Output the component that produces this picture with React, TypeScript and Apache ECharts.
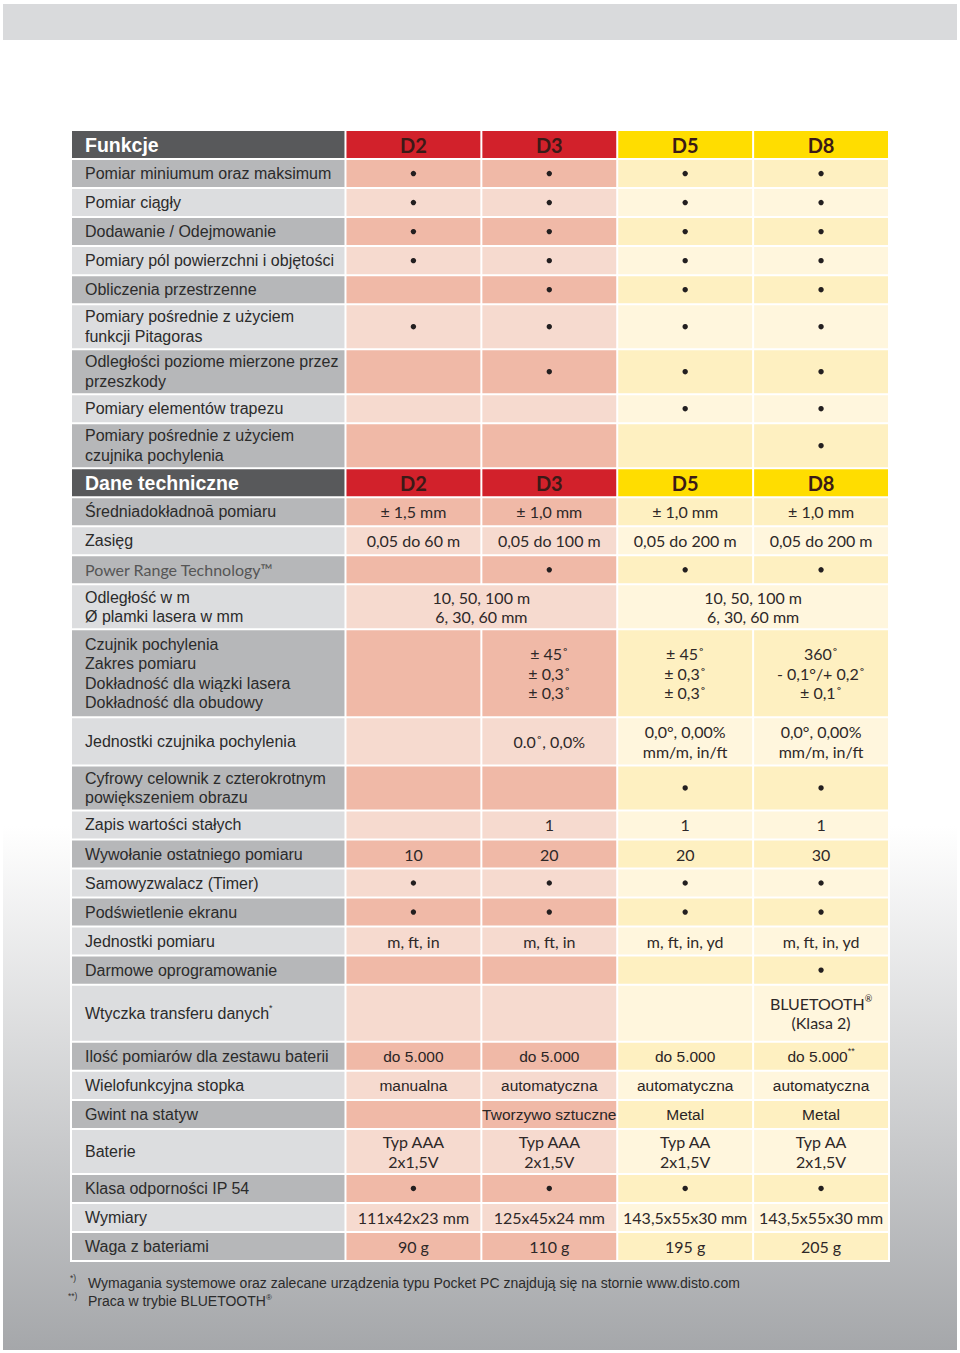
import React, { useEffect, useRef } from "react";
import * as echarts from "echarts";

// ---------- data ----------
const models = ["D2", "D3", "D5", "D8"];
const sectionTitles = ["Funkcje", "Dane techniczne"];

const funcLabels = [
  "Pomiar miniumum oraz maksimum",
  "Pomiar ciągły",
  "Dodawanie / Odejmowanie",
  "Pomiary pól powierzchni i objętości",
  "Obliczenia przestrzenne",
  "Pomiary pośrednie z użyciem\nfunkcji Pitagoras",
  "Odległości poziome mierzone przez\nprzeszkody",
  "Pomiary elementów trapezu",
  "Pomiary pośrednie z użyciem\nczujnika pochylenia",
];
const funcSpans = [1, 1, 1, 1, 1, 1.55, 1.55, 1, 1.55];
const funcD2 = ["•", "•", "•", "•", "", "•", "", "", ""];
const funcD3 = ["•", "•", "•", "•", "•", "•", "•", "", ""];
const funcD5 = ["•", "•", "•", "•", "•", "•", "•", "•", ""];
const funcD8 = ["•", "•", "•", "•", "•", "•", "•", "•", "•"];

const techLabels = [
  "Średniadokładnoā pomiaru",
  "Zasięg",
  "Power Range Technology™",
  "Odległość w m\nØ plamki lasera w mm",
  "Czujnik pochylenia\nZakres pomiaru\nDokładność dla wiązki lasera\nDokładność dla obudowy",
  "Jednostki czujnika pochylenia",
  "Cyfrowy celownik z czterokrotnym\npowiększeniem obrazu",
  "Zapis wartości stałych",
  "Wywołanie ostatniego pomiaru",
  "Samowyzwalacz (Timer)",
  "Podświetlenie ekranu",
  "Jednostki pomiaru",
  "Darmowe oprogramowanie",
  "Wtyczka transferu danych*",
  "Ilość pomiarów dla zestawu baterii",
  "Wielofunkcyjna stopka",
  "Gwint na statyw",
  "Baterie",
  "Klasa odporności IP 54",
  "Wymiary",
  "Waga z bateriami",
];
const techSpans = [1, 1, 1, 1.55, 3.03, 1.66, 1.55, 1, 1, 1, 1, 1, 1, 1.97, 1, 1, 1, 1.55, 1, 1, 1];
// null = merged into the cell on the left
const techD2 = ["± 1,5 mm", "0,05 do 60 m", "", "10, 50, 100 m\n6, 30, 60 mm", "", "", "", "", "10", "•", "•", "m, ft, in", "", "", "do 5.000", "manualna", "", "Typ AAA\n2x1,5V", "•", "111x42x23 mm", "90 g"];
const techD3 = ["± 1,0 mm", "0,05 do 100 m", "•", null, "± 45˚\n± 0,3˚\n± 0,3˚", "0.0˚, 0,0%", "", "1", "20", "•", "•", "m, ft, in", "", "", "do 5.000", "automatyczna", "Tworzywo sztuczne", "Typ AAA\n2x1,5V", "•", "125x45x24 mm", "110 g"];
const techD5 = ["± 1,0 mm", "0,05 do 200 m", "•", "10, 50, 100 m\n6, 30, 60 mm", "± 45˚\n± 0,3˚\n± 0,3˚", "0,0°, 0,00%\nmm/m, in/ft", "•", "1", "20", "•", "•", "m, ft, in, yd", "", "", "do 5.000", "automatyczna", "Metal", "Typ AA\n2x1,5V", "•", "143,5x55x30 mm", "195 g"];
const techD8 = ["± 1,0 mm", "0,05 do 200 m", "•", null, "360˚\n- 0,1°/+ 0,2˚\n± 0,1˚", "0,0°, 0,00%\nmm/m, in/ft", "•", "1", "30", "•", "•", "m, ft, in, yd", "•", "BLUETOOTH®\n(Klasa 2)", "do 5.000**", "automatyczna", "Metal", "Typ AA\n2x1,5V", "•", "143,5x55x30 mm", "205 g"];

const footnoteMarks = ["*)", "**)"];
const footnoteTexts = [
  "Wymagania systemowe oraz zalecane urządzenia typu Pocket PC znajdują się na stornie www.disto.com",
  "Praca w trybie BLUETOOTH®",
];

// ---------- styling ----------
const ARIAL = "'Liberation Sans', Arial, sans-serif";
const HUMAN = "Lato, 'Open Sans', sans-serif";
const arialValueRows = new Set(["Ilość pomiarów dla zestawu baterii", "Wielofunkcyjna stopka", "Gwint na statyw"]);
const humanLabelRows = new Set(["Power Range Technology™"]);
const COLORS: Record<string, [string, string]> = {
  label: ["#b6b7b9", "#dcdddf"],
  red: ["#f0b9a7", "#f6dacf"],
  yel: ["#fef0c1", "#fff6dd"],
};
const LABEL_W = 2.02;

const sections = [
  { title: sectionTitles[0], labels: funcLabels, spans: funcSpans, cols: [funcD2, funcD3, funcD5, funcD8] },
  { title: sectionTitles[1], labels: techLabels, spans: techSpans, cols: [techD2, techD3, techD5, techD8] },
];

type Meta = { kind: string; shade: number; text: string; row: string };

function buildCells() {
  const data: number[][] = [];
  const meta: Meta[] = [];
  let y = 0;
  sections.forEach((sec) => {
    data.push([0, LABEL_W, y, y + 1]);
    meta.push({ kind: "hLabel", shade: 0, text: sec.title, row: "" });
    models.forEach((m, j) => {
      data.push([LABEL_W + j, LABEL_W + j + 1, y, y + 1]);
      meta.push({ kind: j < 2 ? "hRed" : "hYel", shade: 0, text: m, row: "" });
    });
    y += 1;
    sec.labels.forEach((lab, i) => {
      const sp = sec.spans[i];
      const shade = i % 2 === 0 ? 0 : 1;
      data.push([0, LABEL_W, y, y + sp]);
      meta.push({ kind: "label", shade, text: lab, row: lab });
      for (let j = 0; j < 4; j++) {
        const v = sec.cols[j][i];
        if (v === null) continue;
        let k = j + 1;
        while (k < 4 && sec.cols[k][i] === null) k++;
        data.push([LABEL_W + j, LABEL_W + k, y, y + sp]);
        meta.push({ kind: j < 2 ? "red" : "yel", shade, text: v as string, row: lab });
      }
      y += sp;
    });
  });
  return { data, meta, total: y };
}

function markup(t: string) {
  return t.replace(/(®|\*+)/g, "{s|$1}");
}

export default function App() {
  const ref = useRef<HTMLDivElement>(null);
  useEffect(() => {
    document.body.style.margin = "0";
    if (!ref.current) return;
    const chart = echarts.init(ref.current, undefined, { renderer: "svg" });
    const { data, meta, total } = buildCells();

    const renderItem = (params: any, api: any) => {
      const m = meta[params.dataIndex];
      const a = api.coord([api.value(0), api.value(2)]);
      const b = api.coord([api.value(1), api.value(3)]);
      const x = a[0] + 1;
      const y = a[1] + 1;
      const w = b[0] - a[0] - 2;
      const h = b[1] - a[1] - 2;
      let fill = "#fff";
      if (m.kind === "hLabel") fill = "#58595b";
      else if (m.kind === "hRed") fill = "#d2212b";
      else if (m.kind === "hYel") fill = "#ffdd00";
      else fill = COLORS[m.kind][m.shade];
      const children: any[] = [{ type: "rect", shape: { x, y, width: w, height: h }, style: { fill } }];
      const cx = x + w / 2;
      const cy = y + h / 2;
      if (m.text === "•") {
        children.push({ type: "circle", shape: { cx, cy, r: 2.7 }, style: { fill: "#231f20" } });
      } else if (m.text) {
        let fontFamily = HUMAN;
        let fontSize = 16;
        let fontWeight: any = "normal";
        let color = "#2e2828";
        let tx = cx;
        let align = "center";
        if (m.kind === "hLabel") {
          fontFamily = ARIAL; fontSize = 19.5; fontWeight = "bold"; color = "#ffffff"; tx = x + 13; align = "left";
        } else if (m.kind === "hRed" || m.kind === "hYel") {
          fontWeight = "bold"; fontSize = 20; color = "#3b1a17";
        } else if (m.kind === "label") {
          tx = x + 13; align = "left"; color = "#2b2b2b";
          if (humanLabelRows.has(m.row)) { fontFamily = HUMAN; fontSize = 16; color = "#555555"; }
          else { fontFamily = ARIAL; fontSize = 16; }
        } else if (arialValueRows.has(m.row)) {
          fontFamily = ARIAL; fontSize = 15.5; color = "#2b2525";
        }
        children.push({
          type: "text",
          style: {
            text: markup(m.text),
            x: tx,
            y: cy,
            align,
            textAlign: align,
            verticalAlign: "middle",
            textVerticalAlign: "middle",
            fontFamily,
            fontSize,
            fontWeight,
            fill: color,
            lineHeight: 19.5,
            rich: {
              s: { fontSize: 9, fontFamily, fill: color, verticalAlign: "top", lineHeight: 19.5 },
            },
          },
        });
      }
      return { type: "group", children };
    };

    const graphic: any[] = [
      { type: "rect", z: -10, shape: { x: 0, y: 0, width: 960, height: 1353 }, style: { fill: "#ffffff" } },
      { type: "rect", z: -10, shape: { x: 3, y: 4, width: 954, height: 36 }, style: { fill: "#d9dadc" } },
      {
        type: "rect",
        z: -10,
        shape: { x: 3, y: 40, width: 954, height: 1310 },
        style: {
          fill: new echarts.graphic.LinearGradient(0, 0, 0, 1, [
            { offset: 0, color: "#ffffff" },
            { offset: 0.6, color: "#ffffff" },
            { offset: 1, color: "#a5a7aa" },
          ]),
        },
      },
      { type: "rect", z: -9, shape: { x: 70, y: 129, width: 820, height: 1133 }, style: { fill: "#ffffff" } },
    ];
    footnoteTexts.forEach((t, i) => {
      const yy = 1283 + i * 18;
      graphic.push({
        type: "text",
        z: -5,
        style: { text: footnoteMarks[i], x: i === 0 ? 70 : 68, y: yy - 5, fontFamily: ARIAL, fontSize: 8.5, fill: "#333", align: "left", textAlign: "left", verticalAlign: "middle", textVerticalAlign: "middle" },
      });
      graphic.push({
        type: "text",
        z: -5,
        style: {
          text: markup(t), x: 88, y: yy, fontFamily: ARIAL, fontSize: 14, fill: "#2b2b2b",
          align: "left", textAlign: "left", verticalAlign: "middle", textVerticalAlign: "middle", lineHeight: 16,
          rich: { s: { fontSize: 8, fontFamily: ARIAL, fill: "#2b2b2b", verticalAlign: "top", lineHeight: 16 } },
        },
      });
    });

    chart.setOption({
      animation: false,
      graphic,
      grid: { left: 71, right: 71, top: 130, bottom: 92 },
      xAxis: { type: "value", min: 0, max: LABEL_W + 4, show: false },
      yAxis: { type: "value", min: 0, max: total, inverse: true, show: false },
      series: [
        {
          type: "custom",
          z: 5,
          clip: false,
          silent: true,
          renderItem,
          encode: { x: [0, 1], y: [2, 3] },
          data,
        },
      ],
    });
    return () => chart.dispose();
  }, []);
  return <div ref={ref} style={{ width: 960, height: 1353 }} />;
}
